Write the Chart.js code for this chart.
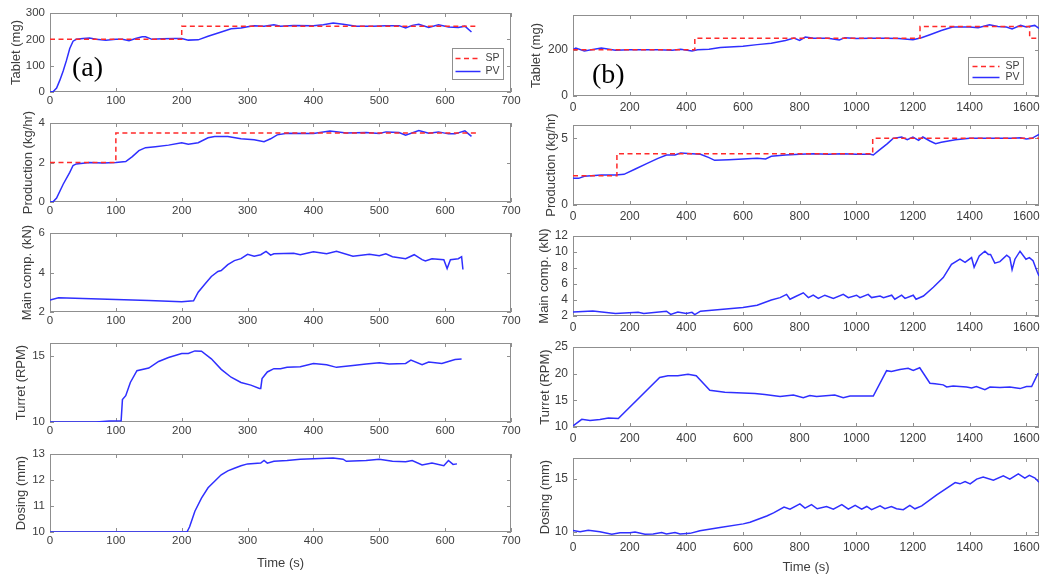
<!DOCTYPE html>
<html lang="en">
<head>
<meta charset="UTF-8">
<title>Tablet press closed-loop runs</title>
<script src="https://cdn.jsdelivr.net/npm/chart.js"></script>
<style>
  body { margin: 0; background: #fff; }
  #fig { position: relative; width: 1050px; height: 581px; overflow: hidden; }
  #fig canvas { position: absolute; }
  .tag { position: absolute; z-index: 5; font-family: "Liberation Serif", "Times New Roman", serif; font-size: 28px; line-height: 28px; color: #000; }
</style>
</head>
<body>
<div id="fig">
  <div class="tag" style="left:72px;top:53px">(a)</div>
  <div class="tag" style="left:592px;top:60px">(b)</div>
</div>

<script>
// ---- run (a) ----
const xTicksA = [0, 100, 200, 300, 400, 500, 600, 700];

const tabA_t  = [0,5,10,15,20,25,30,35,40,50,60,70,85,100,110,120,130,140,145,155,170,190,200,210,225,240,260,275,290,300,310,325,340,350,370,400,415,430,445,465,490,510,530,540,550,560,575,590,605,620,630,640];
const tabA_pv = [0,2,15,45,80,120,165,193,200,203,205,200,197,200,200,195,203,210,210,200,202,203,203,197,198,212,228,240,243,248,252,250,255,250,253,252,255,262,257,250,250,252,252,243,253,257,245,255,247,245,250,228];
const tabA_spT = [0, 200, 650];
const tabA_sp  = [200, 250, 250];
const tabA_ticks = [0, 100, 200, 300];

const prodA_t  = [0,5,10,20,30,35,40,60,80,100,115,125,135,145,160,180,200,210,225,240,250,270,290,310,325,335,345,360,400,425,450,480,500,510,530,540,560,575,590,605,615,630,640];
const prodA_pv = [0,0.02,0.2,0.9,1.5,1.85,1.93,2.0,1.97,2.0,2.05,2.3,2.6,2.75,2.8,2.88,3.0,2.93,3.0,3.25,3.32,3.32,3.2,3.15,3.05,3.2,3.4,3.48,3.47,3.6,3.5,3.52,3.47,3.55,3.52,3.38,3.62,3.48,3.55,3.45,3.45,3.6,3.32];
const prodA_spT = [0, 100, 650];
const prodA_sp  = [2, 3.5, 3.5];
const prodA_ticks = [0, 2, 4];

const compA_t  = [0,13,50,100,150,200,218,225,235,245,255,260,270,280,290,300,310,320,328,335,340,370,380,400,420,435,460,485,500,510,520,540,553,565,570,580,598,603,608,620,625,627];
const compA_pv = [2.6,2.72,2.68,2.63,2.58,2.52,2.57,3.0,3.4,3.8,4.05,4.1,4.4,4.6,4.7,4.92,4.82,4.9,5.07,4.88,4.95,4.97,4.9,5.05,4.95,5.08,4.82,4.92,4.85,4.95,4.8,4.7,4.9,4.65,4.58,4.7,4.65,4.2,4.65,4.7,4.8,4.15];
const compA_ticks = [2, 4, 6];

const turA_t  = [0,70,90,108,110,115,122,132,150,165,180,200,210,220,230,245,260,275,290,305,318,320,322,330,340,350,360,380,400,420,435,460,480,500,515,540,548,565,575,595,605,615,625];
const turA_pv = [10,10,10.08,10.1,11.7,12.0,13.0,13.9,14.1,14.6,14.9,15.2,15.2,15.4,15.38,14.8,14.0,13.4,13.0,12.8,12.55,12.55,13.3,13.8,14.05,14.05,14.15,14.2,14.45,14.35,14.15,14.3,14.4,14.5,14.4,14.45,14.7,14.35,14.55,14.45,14.6,14.75,14.78];
const turA_ticks = [10, 15];

const dosA_t  = [0,208,212,220,230,240,250,260,270,280,290,300,320,325,330,340,360,380,400,430,445,450,480,500,520,540,550,565,580,598,605,612,618];
const dosA_pv = [10,10,10.2,10.8,11.3,11.7,11.95,12.2,12.35,12.45,12.55,12.62,12.65,12.75,12.65,12.72,12.75,12.8,12.82,12.85,12.8,12.72,12.75,12.8,12.72,12.7,12.75,12.58,12.65,12.55,12.75,12.6,12.62];
const dosA_ticks = [10, 11, 12, 13];

// ---- run (b) ----
const xTicksB = [0, 200, 400, 600, 800, 1000, 1200, 1400, 1600];

const tabB_t  = [0,10,40,100,150,200,300,350,380,420,440,480,520,600,650,700,750,780,800,820,850,900,940,960,1000,1050,1100,1150,1200,1230,1260,1300,1340,1400,1430,1470,1500,1530,1550,1580,1600,1630,1645];
const tabB_pv = [200,207,195,207,198,200,200,198,202,195,200,202,210,215,222,228,240,250,240,255,250,250,242,252,248,250,250,248,243,252,265,283,298,298,295,308,300,298,290,305,298,305,292];
const tabB_spT = [0, 430, 1225, 1612, 1645];
const tabB_sp  = [200, 250, 300, 250, 250];
const tabB_ticks = [0, 200];

const prodB_t  = [0,20,40,100,150,180,220,260,300,330,360,380,420,450,480,500,550,600,650,680,700,750,800,850,900,950,1000,1050,1060,1080,1110,1130,1160,1180,1200,1220,1235,1260,1280,1300,1350,1400,1450,1500,1550,1580,1600,1620,1645];
const prodB_pv = [2.0,2.0,2.15,2.25,2.25,2.3,2.7,3.1,3.5,3.75,3.75,3.9,3.85,3.8,3.55,3.35,3.4,3.45,3.5,3.45,3.65,3.75,3.8,3.85,3.8,3.85,3.8,3.8,3.75,4.1,4.6,5.0,5.1,4.9,5.1,4.85,5.1,4.8,4.6,4.7,4.9,5.0,5.0,5.0,5.0,5.05,4.95,5.0,5.3];
const prodB_spT = [0, 155, 1058, 1645];
const prodB_sp  = [2.2, 3.85, 5.0, 5.0];
const prodB_ticks = [0, 5];

const compB_t  = [0,70,150,230,250,330,345,370,400,420,430,450,600,650,700,731,754,766,784,813,831,848,866,889,919,954,972,1001,1013,1042,1054,1084,1096,1125,1136,1160,1172,1201,1211,1237,1272,1307,1336,1366,1384,1407,1416,1434,1454,1466,1474,1489,1507,1531,1542,1550,1560,1578,1599,1611,1624,1638,1645];
const compB_pv = [2.5,2.63,2.3,2.46,2.3,2.6,2.2,2.5,2.3,2.46,2.17,2.6,3.05,3.35,4.0,4.3,4.7,4.1,4.4,4.9,4.3,4.6,4.2,4.6,4.2,4.7,4.3,4.6,4.3,4.7,4.3,4.5,4.3,4.6,4.1,4.6,4.2,4.6,4.1,4.5,5.6,6.8,8.45,9.1,8.7,9.3,8.1,9.5,10.1,9.7,9.7,8.6,8.8,9.6,9.3,7.8,9.1,10.1,9.1,9.3,8.9,7.6,7.0];
const compB_ticks = [2, 4, 6, 8, 10, 12];

const turB_t  = [0,31,60,95,125,160,306,335,370,406,435,483,536,642,677,731,778,813,836,860,924,954,978,1060,1107,1124,1154,1183,1201,1224,1260,1278,1307,1319,1342,1389,1407,1424,1454,1472,1507,1542,1578,1601,1619,1642];
const turB_pv = [10.2,11.44,11.2,11.4,11.7,11.6,19.3,19.6,19.6,19.9,19.6,16.9,16.5,16.3,16.1,15.7,16.0,15.5,15.9,15.7,16.0,15.5,15.8,15.8,20.56,20.4,20.8,21.0,20.6,21.1,18.2,18.1,17.9,17.5,17.7,17.5,17.3,17.6,17.0,17.5,17.4,17.5,17.2,17.6,17.6,20.1];
const turB_ticks = [10, 15, 20, 25];

const dosB_t  = [0,25,54,95,137,166,201,219,254,283,313,330,360,378,413,448,519,601,625,684,708,745,766,801,819,842,862,895,919,949,972,996,1019,1037,1054,1084,1101,1124,1142,1166,1189,1207,1231,1284,1349,1366,1384,1402,1425,1448,1484,1519,1542,1572,1595,1611,1631,1645];
const dosB_pv = [10.12,10.0,10.15,10.0,9.77,9.9,9.9,9.97,9.77,9.8,9.94,9.8,9.94,9.8,9.85,10.1,10.4,10.75,10.9,11.5,11.8,12.35,12.15,12.65,12.24,12.58,12.18,12.4,12.15,12.58,12.15,12.5,12.15,12.4,12.1,12.46,12.2,12.4,12.18,12.1,12.5,12.18,12.46,13.5,14.67,14.55,14.77,14.55,15.0,15.2,14.9,15.3,15.0,15.5,15.1,15.35,15.1,14.7];
const dosB_ticks = [10, 15];

// ---- layout ----
const FONT = "'Liberation Sans', Arial, Helvetica, sans-serif";
const TEXT = '#3d3d3d';
const BOX = '#8f8f8f';
const PV_COLOR = '#2f2fff';
const SP_COLOR = '#ff2a2a';

const cols = [
  { left: 50, right: 511, cLeft: 0, cRight: 525, xMax: 700, xTicks: xTicksA, tickFont: 11.5, xPad: 2,
    tops: [13, 123, 233, 343, 454], bottoms: [92, 202, 312, 422, 532] },
  { left: 573, right: 1039, cLeft: 520, cRight: 1050, xMax: 1645, xTicks: xTicksB, tickFont: 12, xPad: 4,
    tops: [15, 125, 236, 347, 458], bottoms: [96, 205, 316, 427, 536] }
];

const panels = [
  { col: 0, row: 0, title: 'Tablet (mg)', t: tabA_t, pv: tabA_pv, spT: tabA_spT, sp: tabA_sp, yMin: 0, yMax: 300, yTicks: tabA_ticks, tPad: 9,
    legend: { right: 8, top: 35, w: 51, h: 31, ys: [10, 23], x0: 3, x1: 28 } },
  { col: 0, row: 1, title: 'Production (kg/hr)', t: prodA_t, pv: prodA_pv, spT: prodA_spT, sp: prodA_sp, yMin: 0, yMax: 4, yTicks: prodA_ticks, tPad: 21 },
  { col: 0, row: 2, title: 'Main comp. (kN)', t: compA_t, pv: compA_pv, yMin: 2, yMax: 6, yTicks: compA_ticks, tPad: 20 },
  { col: 0, row: 3, title: 'Turret (RPM)', t: turA_t, pv: turA_pv, yMin: 10, yMax: 16, yTicks: turA_ticks, tPad: 14 },
  { col: 0, row: 4, title: 'Dosing (mm)', t: dosA_t, pv: dosA_pv, yMin: 10, yMax: 13, yTicks: dosA_ticks, tPad: 14 },
  { col: 1, row: 0, title: 'Tablet (mg)', t: tabB_t, pv: tabB_pv, spT: tabB_spT, sp: tabB_sp, yMin: 0, yMax: 350, yTicks: tabB_ticks, tPad: 9,
    legend: { right: 16, top: 42, w: 55, h: 27, ys: [9, 20], x0: 4, x1: 31 } },
  { col: 1, row: 1, title: 'Production (kg/hr)', t: prodB_t, pv: prodB_pv, spT: prodB_spT, sp: prodB_sp, yMin: 0, yMax: 6, yTicks: prodB_ticks, tPad: 24 },
  { col: 1, row: 2, title: 'Main comp. (kN)', t: compB_t, pv: compB_pv, yMin: 2, yMax: 12, yTicks: compB_ticks, tPad: 17 },
  { col: 1, row: 3, title: 'Turret (RPM)', t: turB_t, pv: turB_pv, yMin: 10, yMax: 25, yTicks: turB_ticks, tPad: 18 },
  { col: 1, row: 4, title: 'Dosing (mm)', t: dosB_t, pv: dosB_pv, yMin: 9.6, yMax: 17, yTicks: dosB_ticks, tPad: 18 }
];

// box round the plot, inward ticks on all four sides, and the SP/PV legend
const matlabAxes = {
  id: 'matlabAxes',
  beforeDatasetsDraw(chart) {
    const { ctx, chartArea: a, scales: { x, y } } = chart;
    const len = 4;
    ctx.save();
    ctx.strokeStyle = BOX;
    ctx.lineWidth = 1;
    ctx.strokeRect(Math.round(a.left) + 0.5, Math.round(a.top) + 0.5, Math.round(a.width) - 1, Math.round(a.height) - 1);
    ctx.beginPath();
    x.ticks.forEach(tk => {
      const px = Math.round(x.getPixelForValue(tk.value)) + 0.5;
      ctx.moveTo(px, a.bottom); ctx.lineTo(px, a.bottom - len);
      ctx.moveTo(px, a.top); ctx.lineTo(px, a.top + len);
    });
    y.ticks.forEach(tk => {
      const py = Math.round(y.getPixelForValue(tk.value)) + 0.5;
      ctx.moveTo(a.left, py); ctx.lineTo(a.left + len, py);
      ctx.moveTo(a.right, py); ctx.lineTo(a.right - len, py);
    });
    ctx.stroke();
    ctx.restore();
  },
  afterDatasetsDraw(chart, args, opts) {
    const L = opts.legend;
    if (!L) return;
    const { ctx, chartArea: a } = chart;
    const bx = Math.round(a.right - L.right - L.w) + 0.5;
    const by = Math.round(a.top + L.top) + 0.5;
    ctx.save();
    ctx.fillStyle = '#fff';
    ctx.fillRect(bx, by, L.w, L.h);
    ctx.strokeStyle = BOX;
    ctx.lineWidth = 1;
    ctx.strokeRect(bx, by, L.w, L.h);
    ctx.font = '10.5px ' + FONT;
    ctx.textAlign = 'right';
    ctx.textBaseline = 'middle';
    chart.data.datasets.forEach((ds, i) => {
      const yy = by + L.ys[i];
      ctx.strokeStyle = ds.borderColor;
      ctx.lineWidth = ds.borderWidth;
      ctx.setLineDash(ds.borderDash || []);
      ctx.beginPath();
      ctx.moveTo(bx + L.x0, yy);
      ctx.lineTo(bx + L.x1, yy);
      ctx.stroke();
      ctx.setLineDash([]);
      ctx.fillStyle = TEXT;
      ctx.fillText(ds.label, bx + L.w - 4, yy);
    });
    ctx.restore();
  }
};

const fig = document.getElementById('fig');
const toPts = (xs, ys) => xs.map((v, i) => ({ x: v, y: ys[i] }));

panels.forEach(p => {
  const c = cols[p.col];
  const top = c.tops[p.row], bottom = c.bottoms[p.row];
  const padTop = 24;
  const xH = p.row === 4 ? 42 : 24;
  const yW = c.left - c.cLeft;
  const padRight = c.cRight - c.right;

  const canvas = document.createElement('canvas');
  canvas.width = c.cRight - c.cLeft;
  canvas.height = (bottom - top) + padTop + xH;
  canvas.style.left = c.cLeft + 'px';
  canvas.style.top = (top - padTop) + 'px';
  fig.insertBefore(canvas, fig.firstChild);

  const datasets = [];
  if (p.spT) {
    datasets.push({ label: 'SP', data: toPts(p.spT, p.sp), borderColor: SP_COLOR, borderWidth: 1.5,
      borderDash: [5, 3.5], stepped: 'before', pointRadius: 0, fill: false });
  }
  datasets.push({ label: 'PV', data: toPts(p.t, p.pv), borderColor: PV_COLOR, borderWidth: 1.5,
    pointRadius: 0, tension: 0, fill: false });

  new Chart(canvas, {
    type: 'line',
    data: { datasets },
    options: {
      responsive: false,
      animation: false,
      layout: { padding: { top: padTop, right: padRight, left: 0, bottom: 0 } },
      plugins: {
        legend: { display: false },
        tooltip: { enabled: false },
        matlabAxes: { legend: p.legend || null }
      },
      scales: {
        x: {
          type: 'linear', min: 0, max: c.xMax,
          afterBuildTicks: s => { s.ticks = c.xTicks.map(v => ({ value: v })); },
          afterFit: s => { s.height = xH; },
          grid: { display: false, drawTicks: false }, border: { display: false },
          ticks: { color: TEXT, font: { family: FONT, size: c.tickFont }, padding: c.xPad,
            maxRotation: 0, autoSkip: false, callback: v => String(v) },
          title: { display: p.row === 4, text: 'Time (s)', color: TEXT,
            font: { family: FONT, size: 13 }, padding: { top: 0, bottom: 3 } }
        },
        y: {
          type: 'linear', min: p.yMin, max: p.yMax,
          afterBuildTicks: s => { s.ticks = p.yTicks.map(v => ({ value: v })); },
          afterFit: s => { s.width = yW; },
          grid: { display: false, drawTicks: false }, border: { display: false },
          ticks: { color: TEXT, font: { family: FONT, size: c.tickFont }, padding: 5,
            autoSkip: false, callback: v => String(v) },
          title: { display: true, text: p.title, color: TEXT,
            font: { family: FONT, size: 13 }, padding: { top: p.tPad, bottom: 0 } }
        }
      }
    },
    plugins: [matlabAxes]
  });
});
</script>
</body>
</html>
